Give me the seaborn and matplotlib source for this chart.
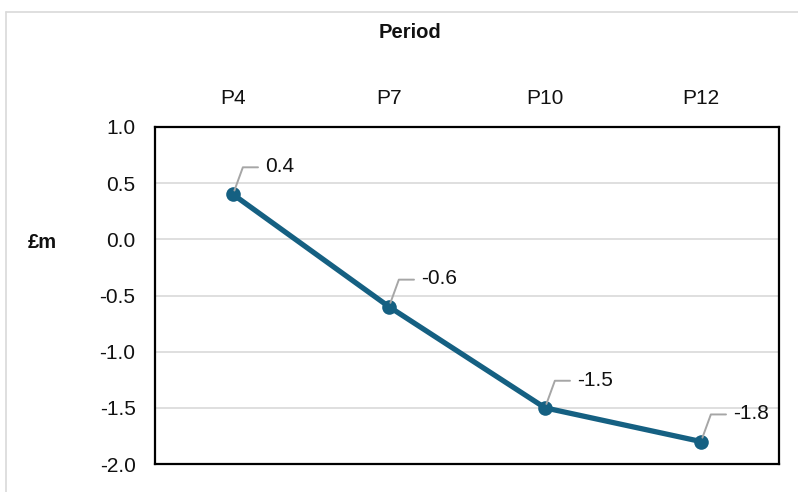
import matplotlib
matplotlib.use("Agg")
import matplotlib.pyplot as plt
from matplotlib.lines import Line2D
import seaborn as sns
import pandas as pd

periods = ["P4", "P7", "P10", "P12"]
values = [0.4, -0.6, -1.5, -1.8]
y_ticks = [1.0, 0.5, 0.0, -0.5, -1.0, -1.5, -2.0]

sns.set_theme(style="white")
plt.rcParams["font.family"] = ["Liberation Sans", "DejaVu Sans"]

line_color = "#156082"
text_color = "#111111"
fs = 15
df = pd.DataFrame({"Period": periods, "Value": values})

fig = plt.figure(figsize=(7.98, 4.92), dpi=100)
ax = fig.add_axes([155 / 798, 1 - 464 / 492, 624 / 798, 337 / 492])

sns.lineplot(data=df, x="Period", y="Value", ax=ax, color=line_color,
             linewidth=3.8, marker="o", markersize=10.5, markeredgewidth=0,
             sort=False, zorder=3)

ax.set_xlim(-0.5, len(periods) - 0.5)
ax.set_ylim(-2.0, 1.0)
ax.set_yticks(y_ticks)
ax.set_yticklabels([f"{t:.1f}" for t in y_ticks])
ax.yaxis.grid(True, color="#d9d9d9", linewidth=1.2)
ax.set_axisbelow(True)

ax.xaxis.tick_top()
ax.xaxis.set_label_position("top")
ax.tick_params(axis="both", length=0, labelsize=fs, colors=text_color)
ax.tick_params(axis="x", pad=14)
ax.tick_params(axis="y", pad=14)
ax.set_xlabel("")
ax.set_ylabel("")

fig.text(410 / 798, 1 - 32 / 492, "Period", fontsize=fs - 0.5,
         fontweight="bold", ha="center", va="center", color=text_color)
fig.text(42 / 798, 1 - 243 / 492, "£m", fontsize=fs - 0.5,
         fontweight="bold", ha="center", va="center", color=text_color)

for s in ax.spines.values():
    s.set_color("black")
    s.set_linewidth(1.6)

# data labels with short grey leader lines
for i, v in enumerate(values):
    ax.annotate("", xy=(i, v), xytext=(18, 19.5), textcoords="offset points",
                arrowprops=dict(arrowstyle="-", color="#a6a6a6", lw=1.4,
                                connectionstyle="angle,angleA=0,angleB=70,rad=0",
                                shrinkA=0, shrinkB=3))
    ax.annotate(f"{v:.1f}", xy=(i, v), xytext=(23, 20),
                textcoords="offset points", ha="left", va="center",
                fontsize=fs, color=text_color)

# outer chart frame
fig.add_artist(Line2D([6 / 798, 6 / 798], [0, 1 - 12 / 492],
                      transform=fig.transFigure, color="#d9d9d9", lw=1.2))
fig.add_artist(Line2D([6 / 798, 1], [1 - 12 / 492, 1 - 12 / 492],
                      transform=fig.transFigure, color="#d9d9d9", lw=1.2))

fig.savefig("out.png", dpi=100)
